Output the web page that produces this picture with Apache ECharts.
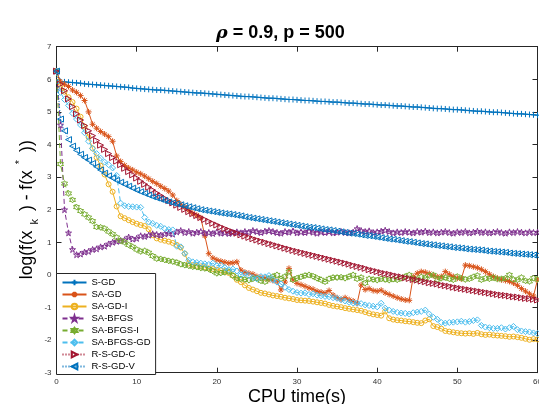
<!DOCTYPE html>
<html><head><meta charset="utf-8">
<script src="https://cdn.jsdelivr.net/npm/echarts@6/dist/echarts.min.js"></script>
<style>html,body{margin:0;padding:0;background:#fff}#c{width:539px;height:404px}</style>
</head><body><div id="c"></div><script>
const T = [0,0.5,1,1.5,2,2.5,3,3.5,4,4.5,5,5.5,6,6.5,7,7.5,8,8.5,9,9.5,10,10.5,11,11.5,12,12.5,13,13.5,14,14.5,15,15.5,16,16.5,17,17.5,18,18.5,19,19.5,20,20.5,21,21.5,22,22.5,23,23.5,24,24.5,25,25.5,26,26.5,27,27.5,28,28.5,29,29.5,30,30.5,31,31.5,32,32.5,33,33.5,34,34.5,35,35.5,36,36.5,37,37.5,38,38.5,39,39.5,40,40.5,41,41.5,42,42.5,43,43.5,44,44.5,45,45.5,46,46.5,47,47.5,48,48.5,49,49.5,50,50.5,51,51.5,52,52.5,53,53.5,54,54.5,55,55.5,56,56.5,57,57.5,58,58.5,59,59.5,60];

const sGD = [6.25,5.93,5.92,5.91,5.90,5.89,5.88,5.86,5.85,5.84,5.83,
5.82,5.81,5.80,5.79,5.78,5.77,5.76,5.75,5.73,5.72,
5.71,5.70,5.69,5.68,5.67,5.67,5.66,5.65,5.64,5.63,
5.62,5.61,5.60,5.59,5.58,5.58,5.57,5.56,5.55,5.54,
5.53,5.52,5.51,5.50,5.49,5.48,5.47,5.47,5.46,5.45,
5.44,5.43,5.42,5.42,5.41,5.40,5.39,5.38,5.38,5.37,
5.36,5.35,5.35,5.34,5.33,5.32,5.32,5.31,5.30,5.30,
5.29,5.28,5.27,5.27,5.26,5.25,5.24,5.24,5.23,5.22,
5.21,5.21,5.20,5.19,5.18,5.18,5.17,5.16,5.15,5.15,
5.14,5.13,5.12,5.11,5.10,5.10,5.09,5.08,5.07,5.07,
5.06,5.05,5.04,5.03,5.02,5.02,5.01,5.00,4.99,4.99,
4.98,4.97,4.96,4.95,4.94,4.94,4.93,4.92,4.91,4.90];

const saGD = [6.25,5.92,5.85,5.78,5.67,5.60,5.50,5.35,5.00,4.62,4.50,
4.40,4.32,4.24,4.10,3.65,3.48,3.36,3.28,3.22,3.15,
3.10,3.03,2.95,2.87,2.80,2.72,2.65,2.57,2.45,2.28,
2.17,2.08,1.98,1.89,1.83,1.75,1.20,0.65,0.52,0.46,
0.42,0.39,0.36,0.37,0.40,0.15,0.08,0.05,0.02,-0.05,
-0.08,-0.10,-0.14,-0.17,-0.20,-0.46,-0.22,0.20,-0.15,-0.26,
-0.30,-0.35,-0.40,-0.44,-0.50,-0.53,-0.56,-0.48,-0.62,-0.70,
-0.75,-0.70,-0.76,-0.80,-0.87,-0.31,-0.45,-0.42,-0.48,-0.50,
-0.47,-0.55,-0.60,-0.65,-0.70,-0.74,-0.77,-0.78,-0.05,0.05,
0.10,0.08,0.04,-0.02,-0.06,-0.05,0.10,0.02,-0.05,-0.10,
-0.12,0.30,0.28,0.25,0.22,0.17,0.10,0.02,-0.05,-0.10,
-0.15,-0.17,-0.20,-0.25,-0.32,-0.42,-0.50,-0.58,-0.65,-0.15];

const saGDI = [6.25,5.80,5.62,5.45,5.30,5.10,4.85,4.55,4.22,3.88,3.60,
3.35,3.08,2.78,2.55,2.10,1.80,1.74,1.68,1.62,1.57,
1.53,1.50,1.40,1.22,1.12,1.08,1.05,1.02,0.98,0.92,
0.84,0.65,0.35,0.30,0.28,0.26,0.24,0.20,0.18,0.16,
0.14,0.12,0.06,-0.02,-0.15,-0.22,-0.32,-0.40,-0.45,-0.50,
-0.55,-0.57,-0.60,-0.63,-0.65,-0.67,-0.70,-0.72,-0.74,-0.77,
-0.78,-0.79,-0.80,-0.82,-0.84,-0.86,-0.88,-0.92,-0.95,-0.97,
-0.99,-1.02,-1.04,-1.06,-1.08,-1.10,-1.14,-1.18,-1.21,-1.23,
-1.25,-1.12,-1.33,-1.37,-1.39,-1.40,-1.42,-1.43,-1.45,-1.47,
-1.48,-1.40,-1.36,-1.57,-1.60,-1.65,-1.72,-1.74,-1.76,-1.78,
-1.79,-1.80,-1.79,-1.81,-1.78,-1.82,-1.84,-1.83,-1.85,-1.86,
-1.87,-1.88,-1.90,-1.89,-1.91,-1.93,-1.96,-1.99,-1.97,-1.98];

const saBFGS = [6.25,4.60,2.00,1.29,0.78,0.62,0.64,0.70,0.72,0.78,0.80,
0.86,0.88,0.95,1.00,1.03,1.05,1.08,1.16,1.10,1.12,
1.20,1.18,1.22,1.26,1.24,1.22,1.26,1.28,1.25,1.32,
1.36,1.30,1.33,1.28,1.31,1.33,1.28,1.30,1.27,1.32,
1.28,1.30,1.27,1.30,1.32,1.29,1.33,1.31,1.36,1.33,
1.30,1.34,1.36,1.33,1.30,1.28,1.33,1.31,1.35,1.29,
1.32,1.30,1.34,1.31,1.28,1.32,1.30,1.33,1.29,1.31,
1.33,1.30,1.29,1.31,1.42,1.36,1.33,1.35,1.30,1.32,
1.34,1.37,1.33,1.29,1.32,1.30,1.33,1.31,1.29,1.33,
1.31,1.34,1.30,1.32,1.29,1.31,1.33,1.30,1.28,1.32,
1.30,1.33,1.29,1.31,1.34,1.30,1.32,1.29,1.31,1.33,
1.30,1.28,1.32,1.30,1.33,1.31,1.29,1.32,1.30,1.31];

const saBFGSI = [6.25,3.40,2.80,2.50,2.30,2.08,1.96,1.86,1.76,1.65,1.47,
1.46,1.42,1.33,1.25,1.15,1.05,1.00,0.92,0.86,0.78,
0.72,0.74,0.68,0.58,0.50,0.49,0.46,0.43,0.41,0.38,
0.33,0.30,0.28,0.25,0.24,0.21,0.20,0.18,0.12,0.05,
0.06,0.08,0.10,-0.02,-0.10,-0.12,-0.14,-0.16,-0.12,-0.10,
-0.18,-0.21,-0.12,-0.05,0.00,-0.12,-0.05,0.10,-0.15,-0.10,
-0.06,-0.02,0.00,-0.04,-0.10,-0.15,-0.21,-0.12,-0.08,-0.08,
-0.07,-0.10,-0.05,0.00,-0.12,-0.08,-0.25,-0.12,-0.14,-0.16,
-0.12,-0.14,-0.16,-0.13,-0.15,-0.10,-0.05,0.00,-0.12,-0.14,
-0.06,-0.10,-0.02,0.00,-0.14,-0.10,-0.08,-0.12,-0.15,-0.05,
-0.10,-0.14,-0.12,-0.06,-0.02,-0.15,-0.10,-0.12,-0.08,-0.13,
-0.12,-0.10,0.00,-0.14,-0.15,-0.08,-0.18,-0.20,-0.10,-0.14];

const saBFGSGD = [6.25,5.60,5.38,5.20,4.96,4.78,4.60,4.36,4.10,3.88,3.72,
3.58,3.46,3.38,3.28,3.05,2.20,2.12,2.10,2.09,2.08,
2.07,1.76,1.62,1.58,1.52,1.49,1.42,1.39,1.38,0.88,
0.86,0.66,0.45,0.40,0.38,0.36,0.34,0.32,0.36,0.28,
0.30,0.22,0.16,0.18,0.12,0.00,0.05,-0.02,-0.08,-0.12,
-0.05,-0.06,-0.02,-0.15,-0.22,-0.28,-0.38,-0.45,-0.50,-0.54,
-0.56,-0.55,-0.60,-0.58,-0.62,-0.64,-0.66,-0.67,-0.70,-0.72,
-0.76,-0.80,-0.84,-0.86,-0.87,-0.88,-0.92,-0.94,-0.96,-0.98,
-0.87,-1.02,-1.08,-1.12,-1.15,-1.17,-1.18,-1.20,-1.16,-1.14,
-1.12,-1.08,-1.20,-1.30,-1.36,-1.46,-1.48,-1.46,-1.45,-1.44,
-1.42,-1.45,-1.43,-1.40,-1.38,-1.55,-1.60,-1.62,-1.64,-1.64,
-1.62,-1.66,-1.62,-1.58,-1.68,-1.72,-1.74,-1.75,-1.78,-1.80];

const rsGDC = [6.25,5.85,5.65,5.40,5.16,4.94,4.75,4.58,4.42,4.27,4.12,
3.98,3.85,3.72,3.60,3.49,3.38,3.27,3.17,3.07,2.97,
2.87,2.78,2.69,2.60,2.51,2.43,2.35,2.28,2.21,2.14,
2.07,2.01,1.94,1.88,1.82,1.76,1.70,1.64,1.58,1.53,
1.47,1.42,1.37,1.32,1.28,1.23,1.19,1.15,1.11,1.07,
1.03,1.00,0.96,0.93,0.89,0.86,0.82,0.79,0.75,0.72,
0.69,0.66,0.63,0.60,0.57,0.54,0.51,0.48,0.45,0.42,
0.39,0.36,0.33,0.29,0.26,0.23,0.20,0.16,0.13,0.10,
0.07,0.04,0.02,-0.01,-0.04,-0.06,-0.09,-0.11,-0.14,-0.16,
-0.19,-0.21,-0.24,-0.26,-0.28,-0.31,-0.33,-0.35,-0.38,-0.40,
-0.42,-0.44,-0.46,-0.48,-0.50,-0.52,-0.54,-0.56,-0.58,-0.60,
-0.62,-0.63,-0.65,-0.67,-0.68,-0.70,-0.72,-0.73,-0.75,-0.77];

const rsGDV = [6.25,4.78,4.42,4.15,3.95,3.82,3.70,3.60,3.52,3.42,3.32,
3.22,3.12,3.04,2.97,2.90,2.84,2.78,2.72,2.66,2.60,
2.55,2.50,2.45,2.40,2.36,2.32,2.28,2.24,2.21,2.18,
2.15,2.12,2.09,2.06,2.03,2.00,1.98,1.96,1.94,1.92,
1.90,1.88,1.87,1.85,1.83,1.81,1.78,1.76,1.74,1.72,
1.70,1.68,1.66,1.64,1.62,1.60,1.58,1.56,1.54,1.52,
1.50,1.48,1.46,1.45,1.43,1.41,1.39,1.38,1.36,1.34,
1.32,1.30,1.28,1.27,1.25,1.23,1.21,1.20,1.18,1.16,
1.14,1.12,1.10,1.09,1.07,1.05,1.03,1.02,1.00,0.98,
0.96,0.95,0.93,0.92,0.90,0.89,0.87,0.86,0.84,0.83,
0.82,0.80,0.79,0.78,0.77,0.76,0.74,0.73,0.72,0.71,
0.70,0.69,0.67,0.66,0.65,0.64,0.63,0.62,0.61,0.60];

const names = ['S-GD','SA-GD','SA-GD-I','SA-BFGS','SA-BFGS-I','SA-BFGS-GD','R-S-GD-C','R-S-GD-V'];
const values = [sGD, saGD, saGDI, saBFGS, saBFGSI, saBFGSGD, rsGDC, rsGDV];
const colors = ['#0072BD','#D95319','#EDB120','#7E2F8E','#77AC30','#4DBEEE','#A2142F','#0072BD'];
const lineTypes = ['solid','solid','solid',[5,3],[5,3],[5,3],[1,2],[1,2]];
const SYM = {
  plus: 'path://M0,5L10,5M5,0L5,10',
  star: 'path://M0,5L10,5M5,0L5,10M1.5,1.5L8.5,8.5M1.5,8.5L8.5,1.5',
  circle: 'path://M10,5A5,5,0,1,1,0,5A5,5,0,1,1,10,5Z',
  penta: 'path://M5,0L6.12,3.45L9.76,3.45L6.82,5.59L7.94,9.05L5,6.91L2.06,9.05L3.18,5.59L0.24,3.45L3.88,3.45Z',
  hexa: 'path://M5,0L6.44,2.5L9.33,2.5L7.89,5L9.33,7.5L6.44,7.5L5,10L3.56,7.5L0.67,7.5L2.11,5L0.67,2.5L3.56,2.5Z',
  diamond: 'path://M5,0L10,5L5,10L0,5Z',
  right: 'path://M0,0L10,5L0,10Z',
  left: 'path://M10,0L0,5L10,10Z'
};
const symbols = [SYM.plus, SYM.star, SYM.circle, SYM.penta, SYM.hexa, SYM.diamond, SYM.right, SYM.left];
const sizes = [6,6,5,6,6,6,6,6];

const FONT = 'Liberation Sans, Arial, Helvetica, sans-serif';
const axisCol = '#262626';

const series = names.map((n, k) => ({
  name: n,
  type: 'line',
  xAxisIndex: 0, yAxisIndex: 0,
  data: T.map((t, i) => [t, values[k][i]]),
  symbol: symbols[k],
  symbolSize: sizes[k],
  showSymbol: true,
  lineStyle: { color: colors[k], width: 1, type: lineTypes[k] },
  itemStyle: { color: 'none', borderColor: colors[k], borderWidth: 1 },
  emphasis: { disabled: true },
  animation: false,
  z: 2 + k
}));

const chart = echarts.init(document.getElementById('c'), null, { renderer: 'canvas' });
chart.setOption({
  animation: false,
  backgroundColor: '#fff',
  textStyle: { fontFamily: FONT },
  title: {
    text: '{r|ρ}{b| = 0.9, p = 500}',
    left: 216, top: 24, padding: 0,
    textStyle: {
      rich: {
        r: { fontFamily: 'DejaVu Serif', fontStyle: 'italic', fontSize: 17.5, color: '#000' },
        b: { fontFamily: FONT, fontWeight: 'bold', fontSize: 18, color: '#000' }
      }
    }
  },
  grid: { left: 56.5, top: 46.7, right: 1.5, bottom: 31.3, containLabel: false, outerBoundsMode: 'none' },
  legend: {
    orient: 'vertical',
    left: 56.5, top: 273.5,
    padding: [3, 5, 2, 5],
    itemWidth: 24, itemHeight: 7, itemGap: 0,
    backgroundColor: '#fff',
    borderColor: axisCol, borderWidth: 1, borderRadius: 0,
    textStyle: { fontFamily: FONT, fontSize: 9.5, color: '#000', lineHeight: 12, height: 12 },
    data: names,
    z: 20
  },
  xAxis: [{
    type: 'value', min: 0, max: 60, interval: 10, position: 'bottom',
    name: 'CPU time(s)', nameLocation: 'middle', nameGap: 15, nameMoveOverlap: false,
    nameTextStyle: { fontFamily: FONT, fontSize: 18, color: '#000', verticalAlign: 'top' },
    axisLine: { show: true, onZero: false, lineStyle: { color: axisCol, width: 1 } },
    axisTick: { show: true, inside: true, length: 5, lineStyle: { color: axisCol } },
    axisLabel: { fontFamily: FONT, fontSize: 8, color: '#333', margin: 5 },
    splitLine: { show: false }
  }, {
    type: 'value', min: 0, max: 60, interval: 10, position: 'top',
    axisLine: { show: true, onZero: false, lineStyle: { color: axisCol, width: 1 } },
    axisTick: { show: true, inside: true, length: 5, lineStyle: { color: axisCol } },
    axisLabel: { show: false }, splitLine: { show: false }
  }],
  yAxis: [{
    type: 'value', min: -3, max: 7, interval: 1, position: 'left',
    name: '{n|log(f(x}{sub|k}{n|) - f(x}{sup|*}{n|))}',
    nameLocation: 'middle', nameGap: 16, nameMoveOverlap: false,
    nameTextStyle: {
      rich: {
        n: { fontFamily: FONT, fontSize: 17.5, color: '#000', lineHeight: 26, verticalAlign: 'middle' },
        sub: { fontFamily: FONT, fontSize: 11, color: '#000', lineHeight: 11, verticalAlign: 'bottom', padding: [0, 8, 0, 6] },
        sup: { fontFamily: FONT, fontSize: 11, color: '#000', lineHeight: 11, verticalAlign: 'top', padding: [0, 8, 0, 6] }
      }
    },
    axisLine: { show: true, onZero: false, lineStyle: { color: axisCol, width: 1 } },
    axisTick: { show: true, inside: true, length: 5, lineStyle: { color: axisCol } },
    axisLabel: { fontFamily: FONT, fontSize: 8, color: '#333', margin: 5 },
    splitLine: { show: false }
  }, {
    type: 'value', min: -3, max: 7, interval: 1, position: 'right',
    axisLine: { show: true, onZero: false, lineStyle: { color: axisCol, width: 1 } },
    axisTick: { show: true, inside: true, length: 5, lineStyle: { color: axisCol } },
    axisLabel: { show: false }, splitLine: { show: false }
  }],
  series: series
});
</script></body></html>
